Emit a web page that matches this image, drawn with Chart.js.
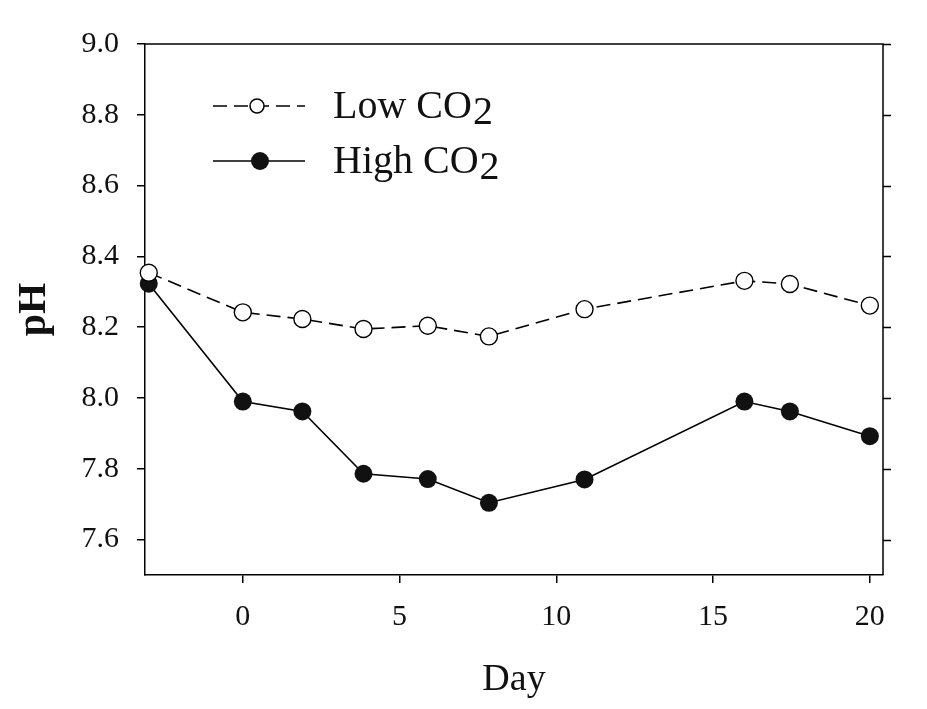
<!DOCTYPE html>
<html>
<head>
<meta charset="utf-8">
<script src="https://cdn.jsdelivr.net/npm/chart.js@4"></script>
<style>
  html, body { margin: 0; padding: 0; background: #fff; }
  #wrap { width: 927px; height: 709px; }
</style>
</head>
<body>
<div id="wrap"><canvas id="ph-chart" width="927" height="709"></canvas></div>
<script>
const DAYS = [-3, 0, 1.9, 3.85, 5.9, 7.85, 10.9, 16, 17.45, 20];
const LOW_CO2 = [8.354, 8.242, 8.223, 8.195, 8.204, 8.174, 8.251, 8.331, 8.322, 8.261];
const HIGH_CO2 = [8.323, 7.99, 7.962, 7.786, 7.771, 7.704, 7.77, 7.99, 7.962, 7.892];
const X_TICKS = [0, 5, 10, 15, 20];
const Y_TICKS = [7.6, 7.8, 8.0, 8.2, 8.4, 8.6, 8.8, 9.0];

const SERIF = "'Liberation Serif', 'Times New Roman', serif";
const TICK_LEN = 8;
const DASH = [14, 7];

function toPoints(values) {
  return DAYS.map((d, i) => ({ x: d, y: values[i] }));
}

// right-side ticks, top border and the in-plot legend
const framePlugin = {
  id: 'frame',
  afterDraw(chart) {
    const { ctx, chartArea: a, scales } = chart;
    ctx.save();
    ctx.strokeStyle = '#000';
    ctx.lineWidth = 1.5;
    ctx.beginPath();
    ctx.moveTo(a.left, a.top);
    ctx.lineTo(a.right, a.top);
    ctx.lineTo(a.right, a.bottom);
    Y_TICKS.forEach((v) => {
      const y = Math.round(scales.y.getPixelForValue(v)) + 0.5;
      ctx.moveTo(a.right, y);
      ctx.lineTo(a.right + TICK_LEN, y);
    });
    ctx.stroke();

    drawLegendRow(ctx, 106, true, 'Low CO');
    drawLegendRow(ctx, 161, false, 'High CO');
    ctx.restore();
  },
};

function drawLegendRow(ctx, y, open, label) {
  ctx.save();
  ctx.strokeStyle = '#000';
  ctx.lineWidth = 1.5;
  if (open) ctx.setLineDash(DASH);
  ctx.beginPath();
  ctx.moveTo(213, y);
  ctx.lineTo(305, y);
  ctx.stroke();
  ctx.setLineDash([]);
  ctx.beginPath();
  if (open) {
    ctx.arc(257, y, 7, 0, Math.PI * 2);
    ctx.fillStyle = '#fff';
    ctx.fill();
    ctx.stroke();
  } else {
    ctx.arc(260, y, 9, 0, Math.PI * 2);
    ctx.fillStyle = '#111';
    ctx.fill();
  }
  ctx.fillStyle = '#111';
  ctx.font = `40px ${SERIF}`;
  ctx.textBaseline = 'alphabetic';
  ctx.textAlign = 'left';
  ctx.fillText(label, 333, y + 12);
  const w = ctx.measureText(label).width;
  ctx.fillText('2', 333 + w + 1, y + 18);
  ctx.restore();
}

function renderChart() {
  const canvas = document.getElementById('ph-chart');

  new Chart(canvas, {
    type: 'line',
    data: {
      datasets: [
        {
          label: 'Low CO2',
          data: toPoints(LOW_CO2),
          borderColor: '#000',
          borderWidth: 1.6,
          borderDash: DASH,
          pointRadius: 8.5,
          pointBorderWidth: 1.4,
          pointBackgroundColor: '#fff',
          pointBorderColor: '#000',
          clip: false,
        },
        {
          label: 'High CO2',
          data: toPoints(HIGH_CO2),
          borderColor: '#000',
          borderWidth: 1.6,
          pointRadius: 9,
          pointBorderWidth: 0,
          pointBackgroundColor: '#111',
          pointBorderColor: '#111',
          clip: false,
        },
      ],
    },
    options: {
      responsive: false,
      animation: false,
      events: [],
      layout: { padding: { top: 44, right: 44, left: 0, bottom: 0 } },
      plugins: {
        legend: { display: false },
        tooltip: { enabled: false },
      },
      scales: {
        x: {
          type: 'linear',
          min: -3.12,
          max: 20.42,
          afterBuildTicks(scale) {
            scale.ticks = X_TICKS.map((v) => ({ value: v }));
          },
          afterFit(scale) {
            scale.height = 134;
          },
          border: { display: true, color: '#000', width: 1.5 },
          grid: {
            display: true,
            drawOnChartArea: false,
            drawTicks: true,
            tickLength: TICK_LEN,
            color: '#000',
            lineWidth: 1.5,
          },
          ticks: {
            color: '#111',
            padding: 16,
            maxRotation: 0,
            font: { family: SERIF, size: 30 },
          },
          title: {
            display: true,
            text: 'Day',
            color: '#111',
            align: 'center',
            padding: { top: 0, bottom: 6 },
            font: { family: SERIF, size: 38 },
          },
        },
        y: {
          min: 7.5,
          max: 9.0,
          afterBuildTicks(scale) {
            scale.ticks = Y_TICKS.map((v) => ({ value: v }));
          },
          afterFit(scale) {
            scale.width = 145;
          },
          border: { display: true, color: '#000', width: 1.5 },
          grid: {
            display: true,
            drawOnChartArea: false,
            drawTicks: true,
            tickLength: TICK_LEN,
            color: '#000',
            lineWidth: 1.5,
          },
          ticks: {
            color: '#111',
            padding: 18,
            font: { family: SERIF, size: 30 },
            callback: (v) => Number(v).toFixed(1),
          },
          title: {
            display: true,
            text: 'pH',
            color: '#111',
            padding: { top: 11, bottom: 0 },
            font: { family: SERIF, size: 40, weight: 'bold' },
          },
        },
      },
    },
    plugins: [framePlugin],
  });
}

document.addEventListener('DOMContentLoaded', renderChart);
</script>
</body>
</html>
